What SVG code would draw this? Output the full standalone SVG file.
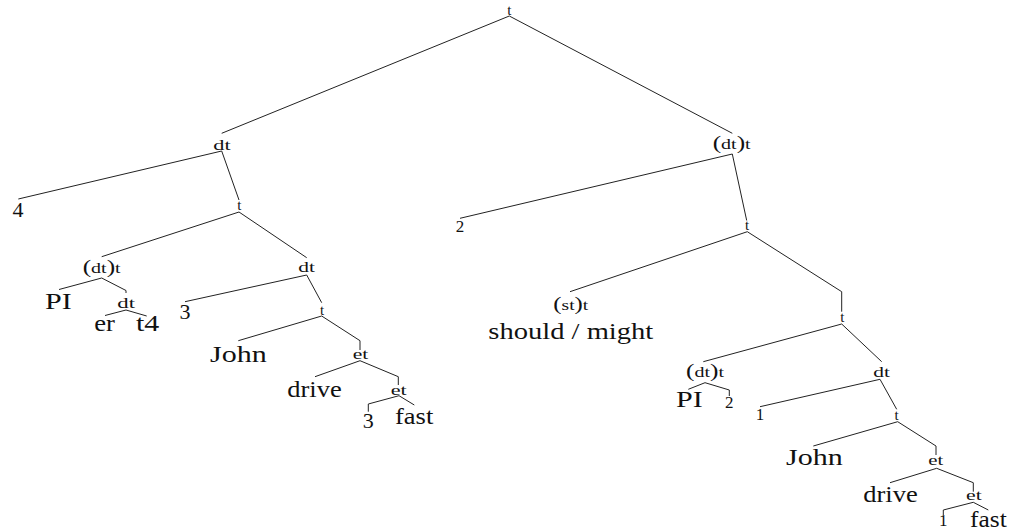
<svg xmlns="http://www.w3.org/2000/svg" width="1021" height="530" viewBox="0 0 1021 530">
<style>
text{fill:#111}
.n{font-size:15px}
.p{font-size:19px}
.l{font-size:24px}
.d{font-size:22px}
.o{font-size:17px}
.c{text-anchor:middle}
#connectors polyline{fill:none;stroke:#222;stroke-width:1}
</style>
<rect width="1021" height="530" fill="#fff"/>
<g id="connectors">
<polyline points="221.7,133.3 509.3,16 732.3,133.3"/>
<polyline points="18.3,199 221.7,151 239,200"/>
<polyline points="101.7,256.7 239,212 306.7,257.7"/>
<polyline points="59,289.5 101.7,278 126,290.5 126,293"/>
<polyline points="105,315.5 126,310 146.7,316"/>
<polyline points="185,301.7 306.7,275 321.7,302.7"/>
<polyline points="238.3,340.7 321.7,316 360,340.7 360,350"/>
<polyline points="315,376.7 360,360.7 398.3,376.7 398.3,385"/>
<polyline points="368.3,411.7 368.3,404 399,395.7 414.3,405"/>
<polyline points="460,218.3 732.3,154 746.7,220.5"/>
<polyline points="570,291.7 747.3,231.7 841.7,291.7 841.7,311.7"/>
<polyline points="703.3,361.7 841.7,324 881.7,361.7"/>
<polyline points="688.3,389.3 705,382.7 729.3,390 729.3,396"/>
<polyline points="760,406.7 880,379.3 896.7,409.3"/>
<polyline points="813.3,446 897.7,421.7 936,446 936,455"/>
<polyline points="890,482.7 936.7,468.3 973.3,482.7 973.3,491.7"/>
<polyline points="943.3,515 943.3,510 973.3,502.3 988.3,510"/>
</g>
<g id="nodes" font-family="'Liberation Serif', 'DejaVu Serif', serif">
<g id="n-root"><text class="n c" x="509.3" y="15">t</text></g>
<g id="n-dt-1"><text class="n" x="213.3" y="149.5" textLength="17.4" lengthAdjust="spacingAndGlyphs">dt</text></g>
<g id="n-4"><text class="d c" x="18" y="217">4</text></g>
<g id="n-t-2"><text class="n c" x="239.3" y="210">t</text></g>
<g id="n-dtt-3"><text class="n" x="82.7" y="272.5" textLength="38" lengthAdjust="spacingAndGlyphs"><tspan class="p">(</tspan>dt<tspan class="p">)</tspan>t</text></g>
<g id="n-PI-a"><text class="l" x="45" y="309" textLength="26.7" lengthAdjust="spacingAndGlyphs">PI</text></g>
<g id="n-dt-4"><text class="n" x="117.3" y="308" textLength="17.7" lengthAdjust="spacingAndGlyphs">dt</text></g>
<g id="n-er"><text class="l" x="94.3" y="331" textLength="20.7" lengthAdjust="spacingAndGlyphs">er</text></g>
<g id="n-t4"><text class="l" x="136" y="331" textLength="23.3" lengthAdjust="spacingAndGlyphs">t4</text></g>
<g id="n-dt-3"><text class="n" x="298.3" y="271.7" textLength="16.7" lengthAdjust="spacingAndGlyphs">dt</text></g>
<g id="n-3a"><text class="d c" x="185" y="319">3</text></g>
<g id="n-t-4"><text class="n c" x="322" y="315">t</text></g>
<g id="n-John-a"><text class="l" x="210" y="361.7" textLength="56.7" lengthAdjust="spacingAndGlyphs">John</text></g>
<g id="n-et-5"><text class="n" x="352.7" y="359" textLength="15.6" lengthAdjust="spacingAndGlyphs">et</text></g>
<g id="n-drive-a"><text class="l" x="287.3" y="396.7" textLength="54.4" lengthAdjust="spacingAndGlyphs">drive</text></g>
<g id="n-et-6"><text class="n" x="390.7" y="395" textLength="16" lengthAdjust="spacingAndGlyphs">et</text></g>
<g id="n-3b"><text class="d c" x="368.3" y="428">3</text></g>
<g id="n-fast-a"><text class="l" x="395" y="424" textLength="38.3" lengthAdjust="spacingAndGlyphs">fast</text></g>
<g id="n-dtt-1"><text class="n" x="712.7" y="149" textLength="38" lengthAdjust="spacingAndGlyphs"><tspan class="p">(</tspan>dt<tspan class="p">)</tspan>t</text></g>
<g id="n-2a"><text class="o c" x="460" y="232">2</text></g>
<g id="n-t-r2"><text class="n c" x="747" y="229.7">t</text></g>
<g id="n-stt"><text class="n" x="553.3" y="310" textLength="35" lengthAdjust="spacingAndGlyphs"><tspan class="p">(</tspan>st<tspan class="p">)</tspan>t</text></g>
<g id="n-modal"><text class="l" x="488.3" y="339.3" textLength="165" lengthAdjust="spacingAndGlyphs">should / might</text></g>
<g id="n-t-r3"><text class="n c" x="842.3" y="321.5">t</text></g>
<g id="n-dtt-r4"><text class="n" x="686" y="377.3" textLength="38" lengthAdjust="spacingAndGlyphs"><tspan class="p">(</tspan>dt<tspan class="p">)</tspan>t</text></g>
<g id="n-PI-b"><text class="l" x="676" y="406.7" textLength="26.7" lengthAdjust="spacingAndGlyphs">PI</text></g>
<g id="n-2b"><text class="o c" x="729.2" y="408">2</text></g>
<g id="n-dt-r4"><text class="n" x="873.3" y="376.7" textLength="16.7" lengthAdjust="spacingAndGlyphs">dt</text></g>
<g id="n-1a"><text class="o c" x="760" y="420">1</text></g>
<g id="n-t-r5"><text class="n c" x="896.7" y="419.7">t</text></g>
<g id="n-John-b"><text class="l" x="786" y="465" textLength="56.7" lengthAdjust="spacingAndGlyphs">John</text></g>
<g id="n-et-r6"><text class="n" x="928.3" y="465" textLength="15" lengthAdjust="spacingAndGlyphs">et</text></g>
<g id="n-drive-b"><text class="l" x="863.3" y="501.7" textLength="54.4" lengthAdjust="spacingAndGlyphs">drive</text></g>
<g id="n-et-r7"><text class="n" x="966" y="500" textLength="15.7" lengthAdjust="spacingAndGlyphs">et</text></g>
<g id="n-1b"><text class="o c" x="943.3" y="526">1</text></g>
<g id="n-fast-b"><text class="l" x="970" y="526.7" textLength="36.7" lengthAdjust="spacingAndGlyphs">fast</text></g>
</g>
</svg>
